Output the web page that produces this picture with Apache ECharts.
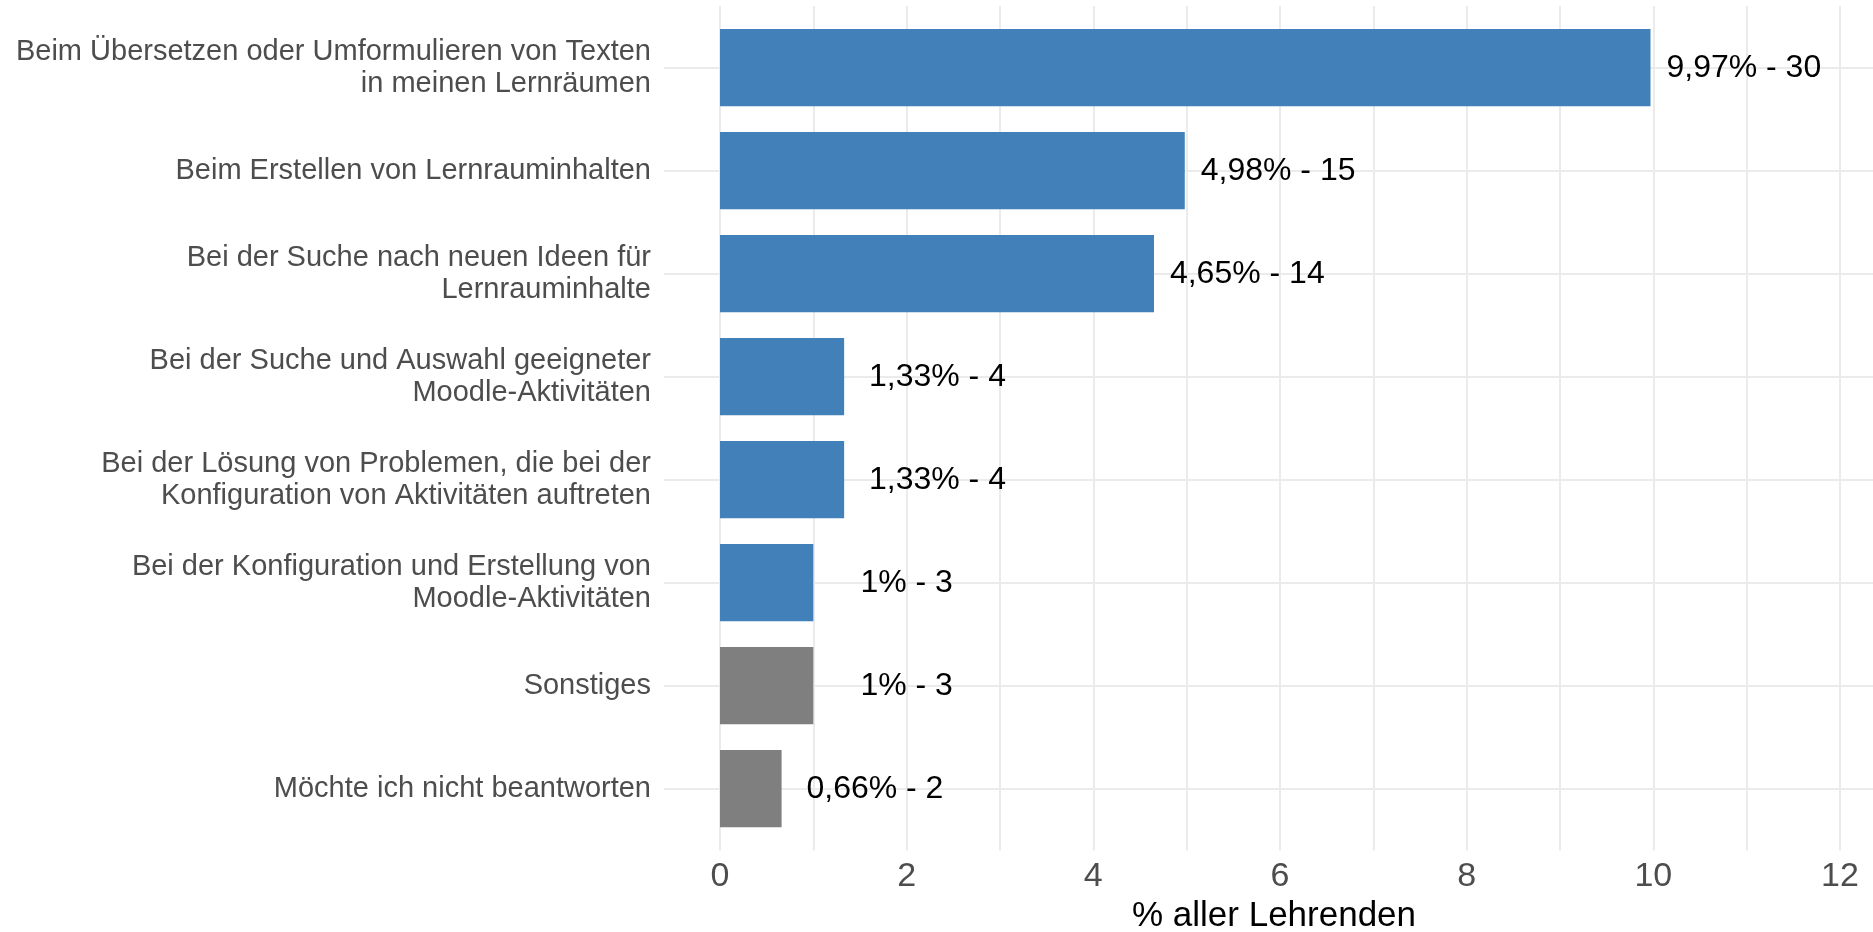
<!DOCTYPE html>
<html>
<head>
<meta charset="utf-8">
<title>KI-Nutzung in Lernräumen</title>
<script src="https://cdn.jsdelivr.net/npm/echarts@6.0.0/dist/echarts.min.js"></script>
<style>
  html, body { margin: 0; padding: 0; background: #fff; }
  #chart { width: 1873px; height: 932px; }
</style>
</head>
<body>
<div id="chart"></div>
<script>
// Antworten, von oben nach unten
var categories = [
  'Beim Übersetzen oder Umformulieren von Texten\nin meinen Lernräumen',
  'Beim Erstellen von Lernrauminhalten',
  'Bei der Suche nach neuen Ideen für\nLernrauminhalte',
  'Bei der Suche und Auswahl geeigneter\nMoodle-Aktivitäten',
  'Bei der Lösung von Problemen, die bei der\nKonfiguration von Aktivitäten auftreten',
  'Bei der Konfiguration und Erstellung von\nMoodle-Aktivitäten',
  'Sonstiges',
  'Möchte ich nicht beantworten'
];
var percent = [9.97, 4.98, 4.65, 1.33, 1.33, 1, 1, 0.66];
var counts = [30, 15, 14, 4, 4, 3, 3, 2];
var groups = ['ki', 'ki', 'ki', 'ki', 'ki', 'ki', 'rest', 'rest'];
var xTicks = [0, 2, 4, 6, 8, 10, 12];

var FONT = '"Liberation Sans", Arial, sans-serif';
var groupColor = { ki: '#4180b8', rest: '#7f7f7f' };
var gridColor = '#ebebeb';

// panel wie bei ggplot: x ab -0.6 (rechts abgeschnitten), y 0.4..8.6
var panelLeft = 664;
var unit = 93.33;
var xMin = -0.6;
var xMax = xMin + (1873 - panelLeft) / unit;

function isInt (v) {
  return Math.abs(v - Math.round(v)) < 1e-6
}

var chart = echarts.init(document.getElementById('chart'));
chart.setOption({
  animation: false,
  backgroundColor: '#fff',
  textStyle: { fontFamily: FONT },
  grid: [
    // panel: gridlines, labels
    { left: panelLeft, right: 0, top: 6, bottom: 81.5, outerBoundsMode: 'none', containLabel: false },
    // bars
    { left: panelLeft, right: 0, top: 16.2, bottom: 91.8, outerBoundsMode: 'none', containLabel: false }
  ],
  xAxis: [
    {
      type: 'value',
      gridIndex: 0,
      min: xMin,
      max: xMax,
      splitNumber: 13,
      minInterval: 1,
      maxInterval: 1,
      axisLine: { show: false },
      axisTick: { show: false },
      axisLabel: {
        margin: 9,
        fontSize: 34,
        color: '#4d4d4d',
        fontFamily: FONT,
        formatter: function (v) {
          var r = Math.round(v);
          return isInt(v) && xTicks.indexOf(r) >= 0 ? String(r) : '';
        }
      },
      splitLine: {
        show: true,
        showMinLine: false,
        showMaxLine: false,
        lineStyle: { color: gridColor, width: 2 }
      },
      name: '% aller Lehrenden',
      nameLocation: 'middle',
      nameGap: 37,
      nameTextStyle: { fontSize: 35, color: '#000', fontFamily: FONT, padding: [0, 0, 0, 11] }
    },
    {
      type: 'value',
      gridIndex: 1,
      min: xMin,
      max: xMax,
      show: false
    }
  ],
  yAxis: [
    {
      type: 'value',
      gridIndex: 0,
      inverse: true,
      min: 0.4,
      max: 8.6,
      splitNumber: 8,
      minInterval: 1,
      maxInterval: 1,
      axisLine: { show: false },
      axisTick: { show: false },
      axisLabel: {
        margin: 13,
        fontSize: 29,
        lineHeight: 32,
        color: '#4d4d4d',
        fontFamily: FONT,
        align: 'right',
        formatter: function (v) {
          var i = Math.round(v);
          return isInt(v) && i >= 1 && i <= categories.length ? categories[i - 1] : '';
        }
      },
      splitLine: {
        show: true,
        showMinLine: false,
        showMaxLine: false,
        lineStyle: { color: gridColor, width: 2 }
      }
    },
    {
      type: 'category',
      gridIndex: 1,
      inverse: true,
      data: categories,
      show: false
    }
  ],
  series: [
    {
      type: 'bar',
      xAxisIndex: 1,
      yAxisIndex: 1,
      barCategoryGap: '25%',
      data: percent.map(function (v, i) {
        return { value: v, itemStyle: { color: groupColor[groups[i]] } };
      }),
      label: {
        show: true,
        position: 'right',
        distance: unit,
        align: 'center',
        fontSize: 32,
        color: '#000',
        fontFamily: FONT,
        formatter: function (p) {
          return String(percent[p.dataIndex]).replace('.', ',') + '% - ' + counts[p.dataIndex];
        }
      }
    }
  ]
});
</script>
</body>
</html>
